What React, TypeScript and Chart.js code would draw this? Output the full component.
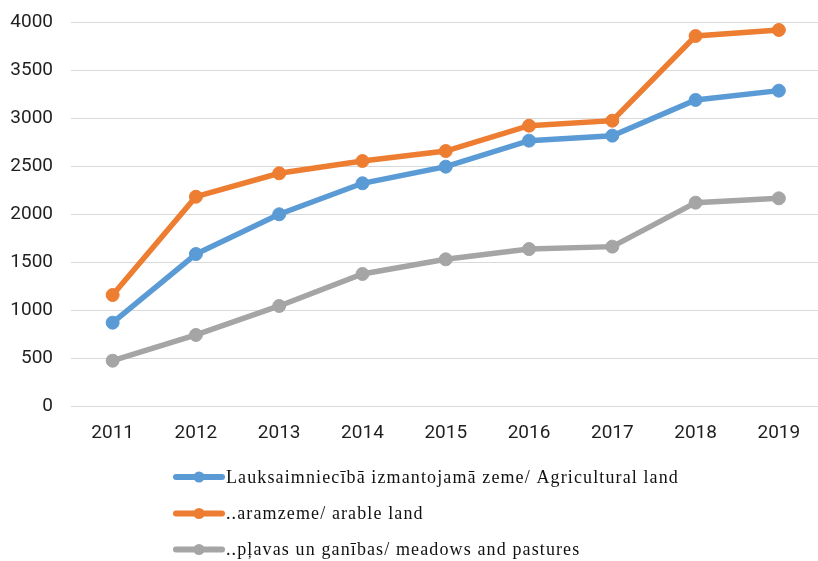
import React, { useEffect, useRef } from "react";
import { Chart, registerables } from "chart.js";

Chart.register(...registerables);

const years = ["2011", "2012", "2013", "2014", "2015", "2016", "2017", "2018", "2019"];
const agricultural = [868, 1583, 1997, 2320, 2493, 2764, 2816, 3188, 3285];
const arable = [1156, 2180, 2424, 2552, 2656, 2920, 2972, 3854, 3917];
const meadows = [472, 740, 1042, 1375, 1528, 1635, 1660, 2118, 2163];
const seriesLabels = [
  "Lauksaimniecībā izmantojamā zeme/ Agricultural land",
  "..aramzeme/ arable land",
  "..pļavas un ganības/ meadows and pastures",
];
const colors = ["#5B9BD5", "#ED7D31", "#A5A5A5"];

const legendPlugin = {
  id: "customLegend",
  afterDraw(chart: any) {
    const ctx = chart.ctx;
    const rows = [477, 513.5, 549.5];
    ctx.save();
    chart.data.datasets.forEach((ds: any, i: number) => {
      const y = rows[i];
      ctx.strokeStyle = ds.borderColor;
      ctx.lineWidth = 6;
      ctx.lineCap = "round";
      ctx.beginPath();
      ctx.moveTo(176, y);
      ctx.lineTo(222, y);
      ctx.stroke();
      ctx.fillStyle = ds.borderColor;
      ctx.beginPath();
      ctx.arc(199, y, 5.5, 0, Math.PI * 2);
      ctx.fill();
      ctx.fillStyle = "#111111";
      ctx.font = "18px 'Liberation Serif'";
      (ctx as any).letterSpacing = "1.12px";
      ctx.textBaseline = "middle";
      ctx.textAlign = "left";
      ctx.fillText(ds.label, 226, y + 1);
    });
    ctx.restore();
  },
};

export default function App() {
  const ref = useRef<HTMLCanvasElement | null>(null);
  useEffect(() => {
    if (!ref.current) return;
    const mk = (label: string, data: number[], color: string) => ({
      label,
      data,
      borderColor: color,
      backgroundColor: color,
      borderWidth: 5.5,
      pointRadius: 6.5,
      pointBorderWidth: 1,
      pointBackgroundColor: color,
      pointBorderColor: color,
      tension: 0,
    });
    const chart = new Chart(ref.current, {
      type: "line",
      data: {
        labels: years,
        datasets: [
          mk(seriesLabels[0], agricultural, colors[0]),
          mk(seriesLabels[1], arable, colors[1]),
          mk(seriesLabels[2], meadows, colors[2]),
        ],
      },
      options: {
        responsive: false,
        animation: false,
        layout: { padding: { top: 22, bottom: 100, left: 0, right: 0 } },
        plugins: { legend: { display: false }, tooltip: { enabled: false } },
        scales: {
          x: {
            offset: true,
            grid: { display: false, drawTicks: false },
            border: { display: false },
            ticks: { padding: 16, color: "#1f1f1f", font: { family: "Roboto", size: 19 } },
            afterFit: (s: any) => {
              s.height = 55;
              s.paddingLeft = 0;
              s.paddingRight = 0;
            },
          },
          y: {
            min: 0,
            max: 4000,
            grid: { color: "#d9d9d9", lineWidth: 1, drawTicks: false },
            border: { display: false },
            ticks: {
              stepSize: 500,
              padding: 18,
              color: "#1f1f1f",
              font: { family: "Roboto", size: 19 },
              callback: (v: any) => String(v),
            },
            afterFit: (s: any) => {
              s.width = 71;
              s.paddingTop = 0;
              s.paddingBottom = 0;
            },
          },
        },
      },
      plugins: [legendPlugin],
    });
    return () => chart.destroy();
  }, []);
  return (
    <div
      style={{
        position: "absolute",
        left: 0,
        top: 0,
        width: 818,
        height: 561,
        overflow: "hidden",
        background: "#fff",
      }}
    >
      <canvas ref={ref} width={828} height={561} style={{ display: "block" }} />
    </div>
  );
}
